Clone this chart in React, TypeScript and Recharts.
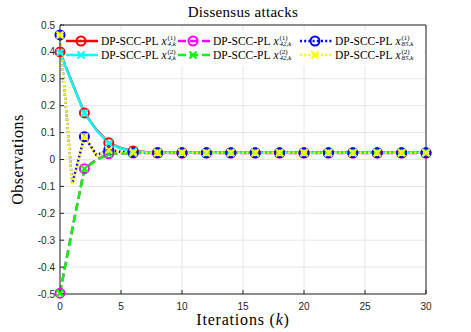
import React from "react";
import { CartesianGrid, Legend, Line, LineChart, XAxis, YAxis } from "recharts";

document.body.style.margin = "0";

const ITERATIONS = [0, 1, 2, 3, 4, 5, 6, 7, 8, 9, 10, 11, 12, 13, 14, 15, 16, 17, 18, 19, 20, 21, 22, 23, 24, 25, 26, 27, 28, 29, 30];

// agent 4, two state components
const X4_1 = [0.4, 0.285, 0.173, 0.11, 0.062, 0.042, 0.032, 0.028, 0.026, 0.026, 0.025, 0.025, 0.025, 0.025, 0.025, 0.025, 0.025, 0.025, 0.025, 0.025, 0.025, 0.025, 0.025, 0.025, 0.025, 0.025, 0.025, 0.025, 0.025, 0.025, 0.025];
const X4_2 = [0.398, 0.283, 0.172, 0.108, 0.06, 0.041, 0.031, 0.027, 0.026, 0.025, 0.025, 0.025, 0.025, 0.025, 0.025, 0.025, 0.025, 0.025, 0.025, 0.025, 0.025, 0.025, 0.025, 0.025, 0.025, 0.025, 0.025, 0.025, 0.025, 0.025, 0.025];
// agent 42
const X42_1 = [-0.497, -0.26, -0.034, 0.0, 0.021, 0.023, 0.024, 0.024, 0.024, 0.024, 0.024, 0.024, 0.024, 0.024, 0.024, 0.024, 0.024, 0.024, 0.024, 0.024, 0.024, 0.024, 0.024, 0.024, 0.024, 0.024, 0.024, 0.024, 0.024, 0.024, 0.024];
const X42_2 = [-0.497, -0.262, -0.035, -0.002, 0.02, 0.023, 0.024, 0.025, 0.025, 0.025, 0.025, 0.025, 0.025, 0.025, 0.025, 0.025, 0.025, 0.025, 0.025, 0.025, 0.025, 0.025, 0.025, 0.025, 0.025, 0.025, 0.025, 0.025, 0.025, 0.025, 0.025];
// agent 85
const X85_1 = [0.463, -0.09, 0.085, 0.016, 0.036, 0.028, 0.026, 0.025, 0.025, 0.025, 0.025, 0.025, 0.025, 0.025, 0.025, 0.025, 0.025, 0.025, 0.025, 0.025, 0.025, 0.025, 0.025, 0.025, 0.025, 0.025, 0.025, 0.025, 0.025, 0.025, 0.025];
const X85_2 = [0.463, -0.095, 0.084, 0.014, 0.035, 0.028, 0.026, 0.025, 0.025, 0.025, 0.025, 0.025, 0.025, 0.025, 0.025, 0.025, 0.025, 0.025, 0.025, 0.025, 0.025, 0.025, 0.025, 0.025, 0.025, 0.025, 0.025, 0.025, 0.025, 0.025, 0.025];

const X_TICKS = [0, 5, 10, 15, 20, 25, 30];
const Y_TICKS = [-0.5, -0.4, -0.3, -0.2, -0.1, 0, 0.1, 0.2, 0.3, 0.4, 0.5];

const data = ITERATIONS.map((k, i) => ({
  k,
  x4_1: X4_1[i],
  x4_2: X4_2[i],
  x42_1: X42_1[i],
  x42_2: X42_2[i],
  x85_1: X85_1[i],
  x85_2: X85_2[i],
}));

const SERIF = '"Liberation Serif", "DejaVu Serif", serif';
const SANS = '"Liberation Sans", Arial, sans-serif';
const AXIS = "#262626";

type Series = { key: string; color: string; dash?: string; marker: "o" | "x"; agent: string; comp: string };

// drawing order (legend in the picture is filled row by row)
const series: Series[] = [
  { key: "x4_1", color: "#ff0000", marker: "o", agent: "4,k", comp: "(1)" },
  { key: "x42_1", color: "#ff00ff", dash: "8 4", marker: "o", agent: "42,k", comp: "(1)" },
  { key: "x85_1", color: "#0000ff", dash: "2 2.2", marker: "o", agent: "85,k", comp: "(1)" },
  { key: "x4_2", color: "#00ffff", marker: "x", agent: "4,k", comp: "(2)" },
  { key: "x42_2", color: "#00ff00", dash: "8 4", marker: "x", agent: "42,k", comp: "(2)" },
  { key: "x85_2", color: "#ffff00", dash: "2 2.2", marker: "x", agent: "85,k", comp: "(2)" },
];

const Marker = ({ cx, cy, s }: { cx: number; cy: number; s: Series }) =>
  s.marker === "o" ? (
    <circle cx={cx} cy={cy} r={4.5} fill="none" stroke={s.color} strokeWidth={2} />
  ) : (
    <g stroke={s.color} strokeWidth={2}>
      <line x1={cx - 3.5} y1={cy - 3.5} x2={cx + 3.5} y2={cy + 3.5} />
      <line x1={cx - 3.5} y1={cy + 3.5} x2={cx + 3.5} y2={cy - 3.5} />
    </g>
  );

// markers only on every second iteration
const makeDot = (s: Series) => (props: any) => {
  const { cx, cy, index } = props;
  if (index % 2 !== 0 || cx == null || cy == null) return <g key={`${s.key}-${index}`} />;
  return (
    <g key={`${s.key}-${index}`}>
      <Marker cx={cx} cy={cy} s={s} />
    </g>
  );
};

const LegendItem = ({ s }: { s: Series }) => (
  <div style={{ display: "flex", alignItems: "center", height: 14, overflow: "hidden" }}>
    <svg width={32} height={14} style={{ flex: "none" }}>
      <line x1={0} y1={7} x2={32} y2={7} stroke={s.color} strokeWidth={2.5} strokeDasharray={s.dash} />
      <Marker cx={15} cy={7} s={s} />
    </svg>
    <span style={{ fontFamily: SERIF, fontSize: 11.5, lineHeight: "13px", color: "#000", marginLeft: 3, whiteSpace: "nowrap", display: "flex", alignItems: "center" }}>
      DP-SCC-PL&nbsp;<i>x</i>
      <span style={{ display: "inline-flex", flexDirection: "column", fontSize: 7, lineHeight: "6.5px", marginLeft: 1 }}>
        <span>{s.comp}</span>
        <i>{s.agent}</i>
      </span>
    </span>
  </div>
);

const renderLegend = () => {
  const cols = [
    [series[0], series[3]],
    [series[1], series[4]],
    [series[2], series[5]],
  ];
  return (
    <div style={{ display: "flex", background: "#fff", padding: "3px 0 4px 0" }}>
      {cols.map((c, i) => (
        <div key={i} style={{ width: i === 0 ? 112 : i === 1 ? 122 : 124 }}>
          {c.map((s) => (
            <LegendItem key={s.key} s={s} />
          ))}
        </div>
      ))}
    </div>
  );
};

const XTitle = (props: any) => {
  const { x, y, width } = props.viewBox;
  return (
    <text x={x + width / 2} y={y + 31} textAnchor="middle" fontFamily={SERIF} fontSize={16} letterSpacing={0.8} fill="#000">
      Iterations (<tspan fontStyle="italic">k</tspan>)
    </text>
  );
};

const YTitle = (props: any) => {
  const { x, y, height } = props.viewBox;
  const cx = x + 3;
  const cy = y + height / 2;
  return (
    <text x={cx} y={cy} transform={`rotate(-90, ${cx}, ${cy})`} textAnchor="middle" fontFamily={SERIF} fontSize={16} letterSpacing={0.5} fill="#000">
      Observations
    </text>
  );
};

const Title = (props: any) => {
  const { x, width } = props.viewBox;
  return (
    <text x={x + width / 2} y={17} textAnchor="middle" fontFamily={SERIF} fontSize={15} letterSpacing={0.3} fill="#000">
      Dissensus attacks
    </text>
  );
};

const fmtY = (v: number) => (v === 0 ? "0" : v.toFixed(1));

export default function App() {
  return (
    <LineChart width={471} height={332} data={data} margin={{ top: 25, right: 45, left: 20, bottom: 8 }}>
      <CartesianGrid stroke="#e6e6e6" />
      <XAxis
        dataKey="k"
        type="number"
        domain={[0, 30]}
        ticks={X_TICKS}
        height={30}
        stroke={AXIS}
        tickSize={-4}
        tickMargin={13}
        tick={{ fontFamily: SANS, fontSize: 10, fill: AXIS }}
        label={<XTitle />}
      />
      <XAxis
        xAxisId="top"
        orientation="top"
        mirror
        type="number"
        dataKey="k"
        domain={[0, 30]}
        allowDataOverflow
        ticks={X_TICKS}
        stroke={AXIS}
        tickSize={4}
        tick={false}
        label={<Title />}
      />
      <YAxis
        type="number"
        domain={[-0.5, 0.5]}
        ticks={Y_TICKS}
        width={40}
        stroke={AXIS}
        tickSize={-4}
        tickMargin={9}
        tickFormatter={fmtY}
        tick={{ fontFamily: SANS, fontSize: 10, fill: AXIS }}
        label={<YTitle />}
      />
      <YAxis
        yAxisId="right"
        orientation="right"
        mirror
        type="number"
        domain={[-0.5, 0.5]}
        allowDataOverflow
        ticks={Y_TICKS}
        stroke={AXIS}
        tickSize={4}
        tick={false}
      />
      {series.map((s) => (
        <Line
          key={s.key}
          type="linear"
          dataKey={s.key}
          stroke={s.color}
          strokeWidth={2.5}
          strokeDasharray={s.dash}
          dot={makeDot(s)}
          activeDot={false}
          isAnimationActive={false}
        />
      ))}
      <Legend
        layout="horizontal"
        verticalAlign="middle"
        align="center"
        content={renderLegend}
        wrapperStyle={{ top: 31, left: 66, width: 358 }}
      />
    </LineChart>
  );
}
